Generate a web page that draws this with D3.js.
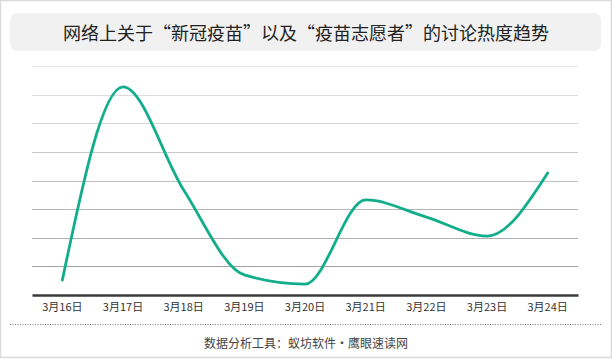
<!DOCTYPE html>
<html><head><meta charset="utf-8">
<script src="https://cdn.jsdelivr.net/npm/d3@7"></script>
<style>html,body{margin:0;padding:0;background:#fff}svg{display:block}</style>
</head><body>
<svg id="c" width="612" height="359"></svg>
<script>
const title = "网络上关于“新冠疫苗”以及“疫苗志愿者”的讨论热度趋势";
const footer = "数据分析工具：蚁坊软件·鹰眼速读网";
const categories = ["3月16日","3月17日","3月18日","3月19日","3月20日","3月21日","3月22日","3月23日","3月24日"];
const values = [52, 727, 367, 70, 38, 332, 272, 206, 426];
const gridTicks = [100,200,300,400,500,600,700,800];

const svg = d3.select("#c");
const W = 612, H = 359;
const font = "'Noto Sans CJK SC','Noto Sans',sans-serif";

svg.append("rect").attr("x",0.5).attr("y",0.5).attr("width",W-1).attr("height",H-2)
  .attr("fill","#fff").attr("stroke","#d9d9d9").attr("stroke-width",1.5);

svg.append("rect").attr("x",10).attr("y",13).attr("width",591).attr("height",38)
  .attr("rx",7).attr("fill","#f1f1f1");
svg.append("text").attr("x",306).attr("y",32).attr("text-anchor","middle")
  .attr("dominant-baseline","central").attr("font-family",font).attr("font-size",18)
  .attr("fill","#222").text(title);

const x = d3.scaleBand().domain(categories).range([32,578]);
const y = d3.scaleLinear().domain([0,800]).range([295,66]);

const gcol = d3.scaleLinear().domain([800,100]).range(["#e6e6e6","#a3a3a3"]);
svg.append("g").selectAll("line").data(gridTicks).join("line")
  .attr("x1",32).attr("x2",578)
  .attr("y1",d=>Math.round(y(d))+0.5).attr("y2",d=>Math.round(y(d))+0.5)
  .attr("stroke",d=>gcol(d)).attr("stroke-width",1);

const xAxis = svg.append("g").attr("transform","translate(0,295)")
  .call(d3.axisBottom(x).tickSize(0).tickPadding(8));
xAxis.select(".domain").attr("stroke","#3a3a3a").attr("stroke-width",2.5);
xAxis.selectAll("text").attr("font-family",font).attr("font-size",11).attr("fill","#333");

const line = d3.line()
  .x((d,i)=>x(categories[i])+x.bandwidth()/2)
  .y(d=>y(d))
  .curve(d3.curveMonotoneX);
svg.append("path").datum(values).attr("d",line)
  .attr("fill","none").attr("stroke","#12ae8c").attr("stroke-width",2.8)
  .attr("stroke-linecap","round");

svg.append("line").attr("x1",10).attr("x2",602).attr("y1",324.5).attr("y2",324.5)
  .attr("stroke","#777").attr("stroke-dasharray","1,1.5");
svg.append("text").attr("x",306).attr("y",342).attr("text-anchor","middle")
  .attr("dominant-baseline","central").attr("font-family",font).attr("font-size",12)
  .attr("fill","#444").text(footer);
</script>
</body></html>
